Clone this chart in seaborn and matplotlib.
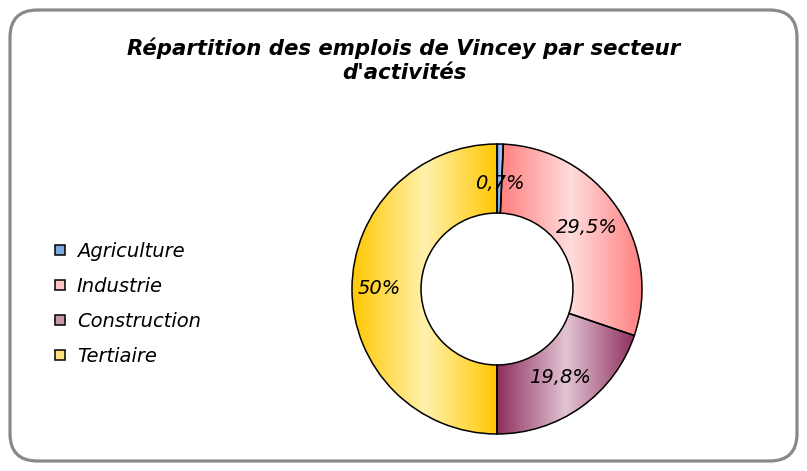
import numpy as np
import matplotlib
matplotlib.use("Agg")
import matplotlib.pyplot as plt
import seaborn as sns
from matplotlib.colors import LinearSegmentedColormap
from matplotlib.patches import FancyBboxPatch
from matplotlib.lines import Line2D

# Employment share by sector
sectors = ["Agriculture", "Industrie", "Construction", "Tertiaire"]
shares = [0.7, 29.5, 19.8, 50.0]
share_labels = ["0,7%", "29,5%", "19,8%", "50%"]
title = "Répartition des emplois de Vincey par secteur\nd'activités"

# Gradient colours per sector: (edge colour, centre colour)
grad_colors = [("#5f8fcf", "#a8ccf5"),
               ("#ff7f7f", "#ffdcdc"),
               ("#8e2f5e", "#e2c4d3"),
               ("#ffc800", "#fff1ad")]
legend_colors = ["#7da9e0", "#ffc4c4", "#c994ad", "#ffe27a"]
# radial position of each percentage label (fraction of outer radius)
label_radius = [0.73, 0.75, 0.75, 0.81]

sns.set_theme(style="white")
plt.rcParams["font.family"] = ["DejaVu Sans"]
plt.rcParams["text.color"] = "black"

W, H = 807, 471
fig = plt.figure(figsize=(W / 100, H / 100), dpi=100)
fig.patch.set_facecolor("white")

# rounded outer frame
frame = FancyBboxPatch((10 / W, 10 / H), (W - 20) / W, (H - 20) / H,
                       boxstyle="round,pad=0,rounding_size=0.034",
                       transform=fig.transFigure, facecolor="none",
                       edgecolor="#898989", linewidth=2.3,
                       mutation_aspect=W / H)
fig.patches.append(frame)

fig.text(404 / W, 1 - 60.5 / H, title, ha="center", va="center",
         fontsize=15.3, fontweight="bold", fontstyle="italic",
         linespacing=1.25, color="black")

# donut axes: centre and outer radius in pixels
cx, cy, R = 497, 289, 145
ax = fig.add_axes([(cx - R) / W, (H - cy - R) / H, 2 * R / W, 2 * R / H])
width = 0.476
wedges, _ = ax.pie(shares, startangle=90, counterclock=False, radius=1,
                   wedgeprops=dict(width=width, edgecolor="black",
                                   linewidth=1.1))

# horizontal gradient fill clipped to each wedge
for w, (edge, centre) in zip(wedges, grad_colors):
    w.set_facecolor("none")
    bb = w.get_path().get_extents(w.get_patch_transform())
    cmap = LinearSegmentedColormap.from_list("g", [edge, centre, edge])
    grad = np.linspace(0, 1, 256).reshape(1, -1)
    im = ax.imshow(grad, cmap=cmap, extent=[bb.x0, bb.x1, bb.y0, bb.y1],
                   aspect="auto", zorder=0.5, interpolation="bilinear")
    im.set_clip_path(w)
ax.set_xlim(-1.0, 1.0)
ax.set_ylim(-1.0, 1.0)
ax.set_aspect("equal")
ax.axis("off")

# percentage labels
cum = 0
for s, lab, r in zip(shares, share_labels, label_radius):
    mid = 90 - (cum + s / 2) * 3.6
    cum += s
    a = np.deg2rad(mid)
    ax.text(r * np.cos(a), r * np.sin(a), lab, ha="center", va="center",
            fontsize=14, fontstyle="italic", color="black", zorder=5)

# legend
handles = [Line2D([], [], marker="s", linestyle="none", markersize=7.2,
                  markerfacecolor=c, markeredgecolor="black",
                  markeredgewidth=1.1) for c in legend_colors]
leg = fig.legend(handles, sectors, loc="center left",
                 bbox_to_anchor=(52.5 / W, 1 - 304 / H), frameon=False,
                 prop=dict(size=14, style="italic"), labelspacing=0.82,
                 handletextpad=0.45, handlelength=0.8, borderpad=0,
                 borderaxespad=0, labelcolor="black")

fig.savefig("out.png", dpi=100, facecolor="white")
